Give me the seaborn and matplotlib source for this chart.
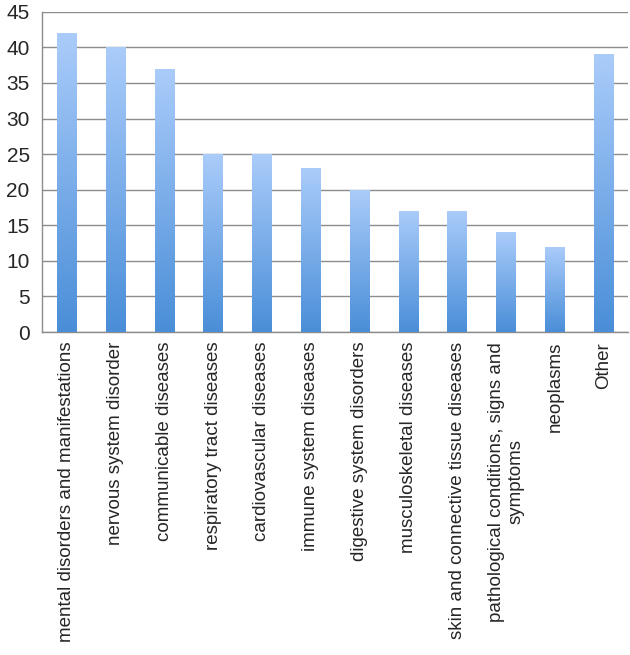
import numpy as np
import pandas as pd
import matplotlib
matplotlib.use("Agg")
import matplotlib.pyplot as plt
import seaborn as sns
from matplotlib.colors import LinearSegmentedColormap

categories = ["mental disorders and manifestations", "nervous system disorder",
              "communicable diseases", "respiratory tract diseases",
              "cardiovascular diseases", "immune system diseases",
              "digestive system disorders", "musculoskeletal diseases",
              "skin and connective tissue diseases",
              "pathological conditions, signs and\nsymptoms",
              "neoplasms", "Other"]
counts = [42, 40, 37, 25, 25, 23, 20, 17, 17, 14, 12, 39]
yticks = [0, 5, 10, 15, 20, 25, 30, 35, 40, 45]

sns.set_style("white")
plt.rcParams["font.family"] = ["Liberation Sans", "DejaVu Sans"]

df = pd.DataFrame({"category": categories, "count": counts})

fig = plt.figure(figsize=(6.3, 6.55), dpi=100)
ax = fig.add_axes([0.067, 0.493, 0.93, 0.489])

sns.barplot(data=df, x="category", y="count", ax=ax, width=0.4,
            color="#6fa6e6", edgecolor="none", zorder=2)

# vertical gradient: darker at the bottom, lighter at the top
cmap = LinearSegmentedColormap.from_list("bargrad", ["#4a8ed8", "#aaccfa"])
grad = np.linspace(0, 1, 256).reshape(-1, 1)
for patch in ax.patches:
    x0, y0 = patch.get_x(), patch.get_y()
    w, h = patch.get_width(), patch.get_height()
    im = ax.imshow(grad, cmap=cmap, origin="lower", aspect="auto",
                   extent=[x0, x0 + w, y0, y0 + h], zorder=3)
    im.set_clip_path(patch)
    patch.set_facecolor("none")

ax.set_xlim(-0.5, len(categories) - 0.5)
ax.set_ylim(0, 45)
ax.set_yticks(yticks)
ax.yaxis.grid(True, color="#8c8c8c", linewidth=1.0, zorder=0)
ax.set_axisbelow(True)

ax.set_xticks(np.arange(len(categories)))
ax.set_xticklabels(categories, rotation=90, fontsize=13.5, ha="center", va="top",
                   multialignment="center")
ax.tick_params(axis="x", length=0, pad=7)
ax.set_xticks(np.arange(len(categories) + 1) - 0.5, minor=True)
ax.tick_params(axis="x", which="minor", length=5, color="#8c8c8c", width=1)
ax.tick_params(axis="y", length=5, color="#8c8c8c", width=1, labelsize=15, pad=4)

ax.set_xlabel("")
ax.set_ylabel("")
for side in ["top", "right"]:
    ax.spines[side].set_visible(False)
for side in ["left", "bottom"]:
    ax.spines[side].set_color("#8c8c8c")
    ax.spines[side].set_linewidth(1.0)

fig.savefig("out.png", dpi=100)
